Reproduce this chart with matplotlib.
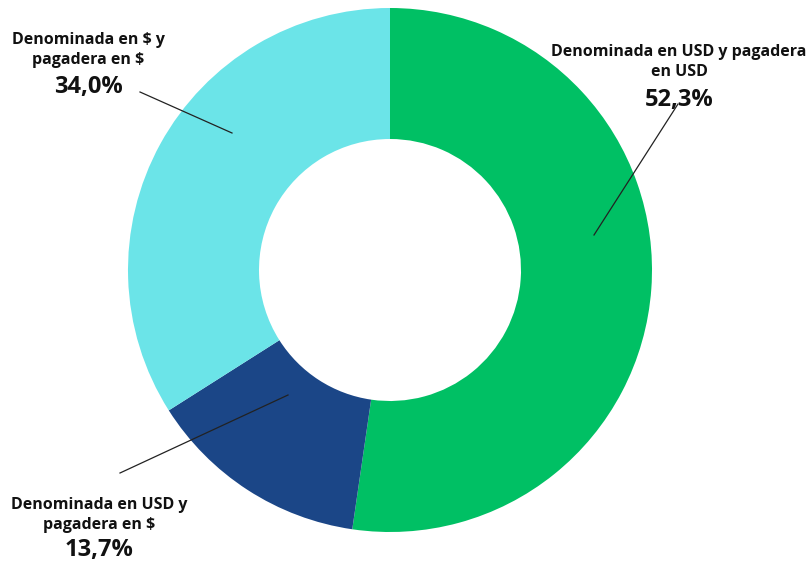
import matplotlib.pyplot as plt

# Composición de la deuda por moneda
labels = ['Denominada en USD y pagadera\nen USD',
          'Denominada en USD y\npagadera en $',
          'Denominada en $ y\npagadera en $']
values = [52.3, 13.7, 34.0]
colors = ['#00C064', '#1B4687', '#6BE4E8']
pct_labels = ['52,3%', '13,7%', '34,0%']

W, H = 807, 563
fig = plt.figure(figsize=(W / 100, H / 100), dpi=100)
ax = fig.add_axes([0, 0, 1, 1])

cx, cy, r = 390, H - 270, 262
ax.pie(values, colors=colors, startangle=90, counterclock=False,
       center=(cx, cy), radius=r, frame=True,
       wedgeprops=dict(width=r * 0.5, linewidth=0))
ax.set_xlim(0, W)
ax.set_ylim(0, H)
ax.set_aspect('equal')
ax.axis('off')

fam = ['Open Sans', 'DejaVu Sans']
# text positions (pixel coords from top) and leader lines
text_pos = [(679, 62), (99, 515), (88, 50)]
pct_pos = [(679, 100), (99, 550), (88, 87)]
lines = [((678, 104), (594, 235)), ((120, 473), (288, 395)), ((140, 92), (232, 133))]

for lab, pct, (tx, ty), (px, py), (p0, p1) in zip(labels, pct_labels, text_pos, pct_pos, lines):
    ax.text(tx, H - ty, lab, ha='center', va='center', fontsize=11.5,
            fontweight='bold', family=fam, linespacing=1.3, color='#111111')
    ax.text(px, H - py, pct, ha='center', va='center', fontsize=17,
            fontweight='bold', family=fam, color='#111111')
    ax.plot([p0[0], p1[0]], [H - p0[1], H - p1[1]], color='#222222', lw=0.9)

fig.savefig('out.png', dpi=100)
